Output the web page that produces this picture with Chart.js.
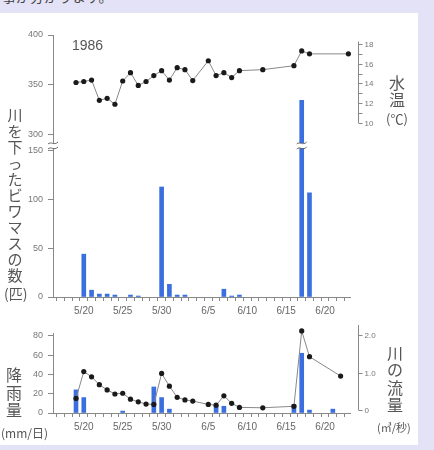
<!DOCTYPE html>
<html>
<head>
<meta charset="utf-8">
<script src="https://cdn.jsdelivr.net/npm/chart.js@4.4.1/dist/chart.umd.min.js"></script>
<style>
  html, body { margin: 0; padding: 0; }
  body { width: 434px; height: 450px; background: #e4e2f6; position: relative; overflow: hidden;
         font-family: 'Noto Sans CJK JP', sans-serif; color: #555; }
  .panel { position: absolute; left: 0; top: 13px; width: 418px; height: 432px; background: #fff; }
  canvas { position: absolute; left: 0; }
  .vt { position: absolute; width: 18px; text-align: center; word-break: break-all; }
  .lab { position: absolute; white-space: nowrap; }
</style>
</head>
<body>
<div class="lab" style="left:2px;top:-14px;font-size:14px;color:#444">事が分かります。</div>
<div class="panel"></div>

<canvas id="cA" width="434" height="126" style="top:20px"></canvas>
<canvas id="cB" width="434" height="180" style="top:140px"></canvas>
<canvas id="cC" width="434" height="118" style="top:320px"></canvas>

<div class="lab" style="left:72px;top:37px;font-size:14px;font-family:'Liberation Sans';color:#555">1986</div>

<div class="vt" style="left:6px;top:107px;font-size:15px;line-height:16px">川を下ったビワマスの数</div>
<div class="lab" style="left:4px;top:283px;font-size:14px">(匹)</div>

<div class="vt" style="left:388px;top:74px;font-size:16px;line-height:17px">水温</div>
<div class="lab" style="left:386px;top:109px;font-size:13px">(℃)</div>

<div class="vt" style="left:5px;top:366px;font-size:16px;line-height:17.5px">降雨量</div>
<div class="lab" style="left:1px;top:424px;font-size:12px">(mm/日)</div>

<div class="vt" style="left:386px;top:344px;font-size:16px;line-height:17.3px">川の流量</div>
<div class="lab" style="left:377px;top:419px;font-size:11px">(㎥/秒)</div>

<script>
// day index: 0 = 5/20
const xTickDays   = [0, 5, 10, 16, 21, 26, 31]
const xTickLabels = ['5/20', '5/25', '5/30', '6/5', '6/10', '6/15', '6/20']

const fishDays   = [0, 1, 2, 3, 4, 6, 7, 10, 11, 12, 13, 18, 19, 20, 28, 29]
const fishCounts = [44, 7, 3, 3, 2, 2, 1, 113, 13, 2, 2, 8, 1, 2, 334, 107]

const tempDays = [-1, 0, 1, 2, 3, 4, 5, 6, 7, 8, 9, 10, 11, 12, 13, 14, 16, 17, 18, 19, 20, 23, 27, 28, 29, 34]
const temps    = [14.1, 14.2, 14.35, 12.3, 12.5, 11.9, 14.25, 15.1, 13.8, 14.2, 14.8, 15.3, 14.35, 15.6, 15.4, 14.3,
                  16.3, 14.8, 15.1, 14.6, 15.3, 15.4, 15.8, 17.3, 17.0, 17.0]
const tempTicks  = [10, 11, 12, 13, 14, 15, 16, 17, 18]

const rainDays = [-1, 0, 5, 9, 10, 11, 17, 18, 27, 28, 29, 32]
const rain     = [24, 16, 2, 27, 16, 4, 8, 7, 9, 62, 3, 4]

const flowDays = [-1, 0, 1, 2, 3, 4, 5, 6, 7, 8, 9, 10, 11, 12, 13, 14, 16, 17, 18, 19, 20, 23, 27, 28, 29, 33]
const flow     = [0.31, 1.03, 0.89, 0.68, 0.54, 0.43, 0.45, 0.29, 0.22, 0.16, 0.15, 0.98, 0.64, 0.34, 0.27, 0.24,
                  0.15, 0.13, 0.38, 0.18, 0.07, 0.06, 0.1, 2.12, 1.43, 0.91]
const flowTicks = [0, 1, 2]

const XMIN = -3.44, XMAX = 33.69
const BLUE = '#3b6fe0'
const TICKC = '#777'
const LINEC = '#888'
const numFont = { family: 'Liberation Sans', size: 9 }

const pts = (xs, ys) => xs.map((x, i) => ({ x, y: ys[i] }))

function xAxis(h) {
  return {
    type: 'linear', min: XMIN, max: XMAX, display: h > 0,
    afterFit: s => { s.height = h },
    border: { color: LINEC },
    grid: { drawOnChartArea: false, tickLength: 4, color: LINEC },
    ticks: {
      stepSize: 1, includeBounds: false, autoSkip: false, maxRotation: 0, padding: 4,
      color: '#666', font: { family: 'Liberation Sans', size: 10 },
      callback: v => { const i = xTickDays.indexOf(v); return i < 0 ? '' : xTickLabels[i] }
    }
  }
}

function leftAxis(min, max, step) {
  return {
    position: 'left', min, max,
    // fixed width, and no extra inset for half-height edge labels
    afterFit: s => { s.width = 53; s.paddingTop = 0; s.paddingBottom = 0 },
    border: { color: LINEC },
    grid: { drawOnChartArea: false, tickLength: 5, color: LINEC },
    ticks: { stepSize: step, includeBounds: false, padding: 5, color: TICKC, font: numFont }
  }
}

// right-hand axis drawn from a hidden chart scale, partial span like the print
const rightAxis = {
  id: 'rightAxis',
  afterDraw(chart, args, o) {
    const s = chart.scales[o.scale], ctx = chart.ctx
    const x = chart.chartArea.right + 8.5
    ctx.save()
    ctx.strokeStyle = LINEC; ctx.lineWidth = 1
    ctx.beginPath()
    ctx.moveTo(x, s.getPixelForValue(o.lineTo))
    ctx.lineTo(x, s.getPixelForValue(o.lineFrom))
    ctx.stroke()
    ctx.fillStyle = TICKC; ctx.font = '8px "Liberation Sans"'; ctx.textBaseline = 'middle'
    o.ticks.forEach(v => {
      const y = Math.round(s.getPixelForValue(v)) + 0.5
      ctx.beginPath(); ctx.moveTo(x, y); ctx.lineTo(x + 4, y); ctx.stroke()
      const t = o.label(v)
      if (t) ctx.fillText(t, x + 6, y)
    })
    ctx.restore()
  }
}

// "≈" break marks where the count axis jumps from 150 to 300
const breakMarks = {
  id: 'breakMarks',
  afterDraw(chart) {
    const ctx = chart.ctx, y = chart.chartArea.top
    const meta = chart.getDatasetMeta(0)
    const big = fishCounts.indexOf(Math.max(...fishCounts))
    const xs = [chart.chartArea.left, meta.data[big].x]
    xs.forEach(x => {
      ctx.save()
      ctx.fillStyle = '#fff'
      ctx.fillRect(x - 5, y - 3, 10, 5)
      ctx.strokeStyle = '#666'; ctx.lineWidth = 1;
      [-3, 2].forEach(dy => {
        ctx.beginPath()
        ctx.moveTo(x - 5, y + dy + 1)
        ctx.bezierCurveTo(x - 2, y + dy - 2, x + 1, y + dy + 3, x + 5, y + dy - 1)
        ctx.stroke()
      })
      ctx.restore()
    })
  }
}

const lineDs = (data, axis) => ({
  type: 'line', data, yAxisID: axis, order: 0, clip: false,
  borderColor: LINEC, borderWidth: 1, tension: 0,
  pointRadius: 2.6, pointBackgroundColor: '#1a1a1a', pointBorderWidth: 0
})
const barDs = (data, axis) => ({
  type: 'bar', data, yAxisID: axis, order: 1, clip: 0,
  backgroundColor: BLUE, barThickness: 4
})

const common = {
  responsive: false, animation: false, events: [],
  plugins: { legend: { display: false }, tooltip: { enabled: false } }
}

// upper part: fish 300-400 + water temperature
new Chart(document.getElementById('cA'), {
  type: 'bar',
  data: { datasets: [barDs(pts(fishDays, fishCounts), 'y'), lineDs(pts(tempDays, temps), 'yT')] },
  options: {
    ...common,
    layout: { autoPadding: false, padding: { top: 15, bottom: 0, left: 0, right: 84 } },
    plugins: { ...common.plugins,
      rightAxis: { scale: 'yT', lineFrom: 10, lineTo: 18.25, ticks: tempTicks, label: v => v % 2 === 0 ? String(v) : '' } },
    scales: {
      x: xAxis(0),
      y: leftAxis(287.9, 400, 50),
      yT: { display: false, min: 7.67, max: 18.91 }
    }
  },
  plugins: [rightAxis]
})

// lower part: fish 0-150
new Chart(document.getElementById('cB'), {
  type: 'bar',
  data: { datasets: [barDs(pts(fishDays, fishCounts), 'y')] },
  options: {
    ...common,
    layout: { autoPadding: false, padding: { top: 6, bottom: 0, left: 0, right: 84 } },
    scales: { x: xAxis(23), y: leftAxis(0, 155.1, 50) }
  },
  plugins: [breakMarks]
})

// rainfall + river flow
new Chart(document.getElementById('cC'), {
  type: 'bar',
  data: { datasets: [barDs(pts(rainDays, rain), 'y'), lineDs(pts(flowDays, flow), 'yF')] },
  options: {
    ...common,
    layout: { autoPadding: false, padding: { top: 13, bottom: 0, left: 0, right: 84 } },
    plugins: { ...common.plugins,
      rightAxis: { scale: 'yF', lineFrom: 0, lineTo: 2.28, ticks: flowTicks, label: v => v === 0 ? '0' : v.toFixed(1) } },
    scales: {
      x: xAxis(25),
      y: leftAxis(0, 83, 20),
      yF: { display: false, min: -0.08, max: 2.065 }
    }
  },
  plugins: [rightAxis]
})
</script>
</body>
</html>
